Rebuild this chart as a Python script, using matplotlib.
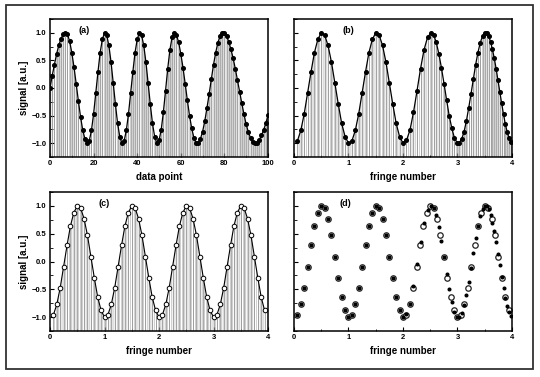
import numpy as np
import matplotlib
matplotlib.use('Agg')
import matplotlib.pyplot as plt
from matplotlib.patches import Rectangle
from matplotlib.ticker import MultipleLocator

plt.rcParams['font.family'] = ['Liberation Sans', 'DejaVu Sans']
plt.rcParams['font.weight'] = 'bold'
plt.rcParams['hatch.linewidth'] = 0.45

# (a) raw signal vs data point
data_point = np.arange(101)
a_signal = [0.00, 0.22, 0.42, 0.61, 0.77, 0.89, 0.97, 1.00, 0.97, 0.85,
            0.64, 0.38, 0.08, -0.23, -0.52, -0.76, -0.92, -1.00, -0.96, -0.77,
            -0.47, -0.09, 0.29, 0.64, 0.88, 1.00, 0.96, 0.77, 0.47, 0.09,
            -0.29, -0.64, -0.88, -1.00, -0.96, -0.77, -0.47, -0.09, 0.29, 0.64,
            0.88, 1.00, 0.96, 0.77, 0.47, 0.09, -0.29, -0.64, -0.88, -1.00,
            -0.95, -0.76, -0.44, -0.05, 0.35, 0.69, 0.92, 1.00, 0.96, 0.83,
            0.62, 0.37, 0.08, -0.22, -0.50, -0.73, -0.90, -0.99, -0.99, -0.92,
            -0.79, -0.60, -0.36, -0.11, 0.16, 0.42, 0.64, 0.82, 0.94, 1.00,
            0.99, 0.94, 0.84, 0.70, 0.54, 0.35, 0.14, -0.07, -0.28, -0.48,
            -0.66, -0.80, -0.91, -0.98, -1.00, -0.99, -0.94, -0.86, -0.76, -0.64,
            -0.49]

# (b) same points (data point 18..93) vs fringe number
b_fringe = [0.0625, 0.125, 0.1875, 0.25, 0.3125, 0.375, 0.4375, 0.5,
            0.5625, 0.625, 0.6875, 0.75, 0.8125, 0.875, 0.9375, 1.0,
            1.0625, 1.125, 1.1875, 1.25, 1.3125, 1.375, 1.4375, 1.5,
            1.5625, 1.625, 1.6875, 1.75, 1.8125, 1.875, 1.9375, 2.0,
            2.064, 2.129, 2.193, 2.258, 2.322, 2.386, 2.451, 2.515, 2.563, 2.610,
            2.658, 2.705, 2.753, 2.801, 2.848, 2.896, 2.943, 2.991, 3.036, 3.079,
            3.121, 3.163, 3.206, 3.248, 3.291, 3.333, 3.375, 3.418, 3.460, 3.503,
            3.539, 3.573, 3.607, 3.641, 3.675, 3.709, 3.743, 3.777, 3.811, 3.845,
            3.879, 3.913, 3.947, 3.981]
b_signal = a_signal[18:94]

# (c) resampled on an even fringe grid
c_fringe = np.arange(1, 64) / 16
c_signal = [-0.96, -0.77, -0.47, -0.09, 0.29, 0.64, 0.88, 1.00, 0.96, 0.77, 0.47, 0.09, -0.29, -0.64, -0.88,
            -1.00, -0.96, -0.77, -0.47, -0.09, 0.29, 0.64, 0.88, 1.00, 0.96, 0.77, 0.47, 0.09, -0.29, -0.64, -0.88,
            -1.00, -0.96, -0.77, -0.47, -0.09, 0.29, 0.64, 0.88, 1.00, 0.96, 0.77, 0.47, 0.09, -0.29, -0.64, -0.88,
            -1.00, -0.96, -0.77, -0.47, -0.09, 0.29, 0.64, 0.88, 1.00, 0.96, 0.77, 0.47, 0.09, -0.29, -0.64, -0.88]

YMIN, YMAX = -1.25, 1.25


def style_axes(ax, xmax, xmajor, xminor, ylabels):
    ax.set_xlim(0, xmax)
    ax.set_ylim(YMIN, YMAX)
    ax.xaxis.set_major_locator(MultipleLocator(xmajor))
    ax.xaxis.set_minor_locator(MultipleLocator(xminor))
    ax.yaxis.set_major_locator(MultipleLocator(0.5))
    ax.yaxis.set_minor_locator(MultipleLocator(0.25))
    ax.tick_params(which='major', direction='in', length=3, width=0.8,
                   labelsize=5.5, pad=2.5, top=False, right=False)
    ax.tick_params(which='minor', direction='in', length=1.8, width=0.6,
                   top=False, right=False)
    ax.tick_params(axis='y', labelleft=ylabels)
    for s in ax.spines.values():
        s.set_linewidth(1.1)


def stems(ax, x, y):
    ax.fill_between(x, y, YMIN, facecolor='none', edgecolor='#b4b4b4',
                    hatch='|' * 9, linewidth=0)
    ax.vlines(x, YMIN, y, colors='#8c8c8c', linewidth=0.5)


fig = plt.figure(figsize=(5.4, 3.77), dpi=100)
fig.add_artist(Rectangle((0.011, 0.021), 0.976, 0.966, transform=fig.transFigure,
                         fill=False, edgecolor='#333333', linewidth=1.3))

ax_a = fig.add_axes([0.0926, 0.5836, 0.4037, 0.366])
ax_b = fig.add_axes([0.5444, 0.5836, 0.4037, 0.366])
ax_c = fig.add_axes([0.0926, 0.122, 0.4037, 0.3687])
ax_d = fig.add_axes([0.5444, 0.122, 0.4037, 0.3687])

# (a)
stems(ax_a, data_point, a_signal)
ax_a.plot(data_point, a_signal, '-o', color='black', lw=0.9, ms=2.6)
style_axes(ax_a, 100, 20, 10, True)
ax_a.set_xlabel('data point', fontsize=7, fontweight='bold', labelpad=3)
ax_a.set_ylabel('signal [a.u.]', fontsize=7, fontweight='bold', labelpad=1.5)
ax_a.text(0.156, 0.915, '(a)', transform=ax_a.transAxes, fontsize=6.5,
          fontweight='bold', ha='center', va='center')

# (b)
stems(ax_b, b_fringe, b_signal)
ax_b.plot(b_fringe, b_signal, '-o', color='black', lw=0.9, ms=2.6)
style_axes(ax_b, 4, 1, 0.5, False)
ax_b.set_xlabel('fringe number', fontsize=7, fontweight='bold', labelpad=3)
ax_b.text(0.249, 0.92, '(b)', transform=ax_b.transAxes, fontsize=6.5,
          fontweight='bold', ha='center', va='center')

# (c)
stems(ax_c, c_fringe, c_signal)
ax_c.plot(c_fringe, c_signal, '-o', color='black', lw=0.8, ms=3.3,
          mfc='white', mec='black', mew=0.7)
style_axes(ax_c, 4, 1, 0.5, True)
ax_c.set_xlabel('fringe number', fontsize=7, fontweight='bold', labelpad=3)
ax_c.set_ylabel('signal [a.u.]', fontsize=7, fontweight='bold', labelpad=1.5)
ax_c.text(0.248, 0.918, '(c)', transform=ax_c.transAxes, fontsize=6.5,
          fontweight='bold', ha='center', va='center')

# (d) overlay of (b) points and (c) points
ax_d.plot(c_fringe, c_signal, 'o', ms=3.9, mfc='white', mec='#222222', mew=0.9)
ax_d.plot(b_fringe, b_signal, 'o', ms=1.9, color='black')
style_axes(ax_d, 4, 1, 0.5, False)
ax_d.set_xlabel('fringe number', fontsize=7, fontweight='bold', labelpad=3)
ax_d.text(0.234, 0.918, '(d)', transform=ax_d.transAxes, fontsize=6.5,
          fontweight='bold', ha='center', va='center')

fig.savefig('out.png', dpi=100)
